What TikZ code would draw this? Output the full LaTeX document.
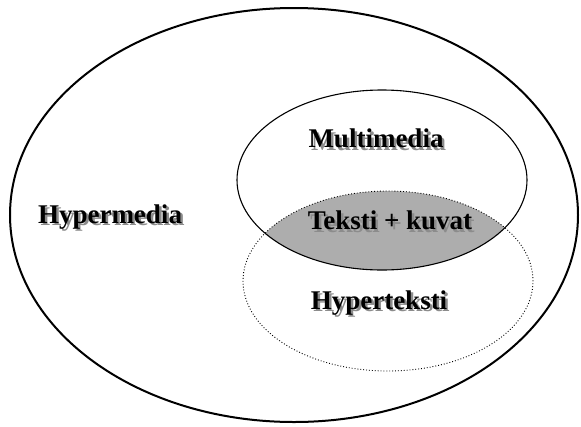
\documentclass[tikz,border=0pt]{standalone}
\usepackage{fontspec}
\setmainfont{Liberation Serif}
\usetikzlibrary{shapes.geometric}
\newcommand{\shadowtext}[1]{\makebox[0pt][l]{\hspace{2.5pt}\raisebox{-2.5pt}{\textcolor{black!45}{#1}}}#1}
\tikzset{
  lbl/.style={font=\fontsize{27}{29}\selectfont\bfseries, text=black, inner sep=0pt},
  venn/.style={ellipse, draw, inner sep=0pt, minimum width=290pt, minimum height=180pt},
}
\begin{document}
\begin{tikzpicture}[x=1pt,y=-1pt]
\useasboundingbox (0,0) rectangle (581,426);
% shaded lens
\begin{scope}
  \clip (382,180) ellipse [x radius=145, y radius=90];
  \fill[black!32] (388,281) ellipse [x radius=145, y radius=90];
\end{scope}
\node[ellipse, draw, line width=2pt, minimum width=568pt, minimum height=414pt, inner sep=0pt] (outer) at (294,215) {};
\node[venn, line width=1.1pt] (multi) at (382,180) {};
\node[venn, dotted, line width=0.9pt] (hyper) at (388,281) {};
\node[lbl] (thm) at (110,218) {\shadowtext{Hypermedia}};
\node[lbl] (tmm) at (376,140) {\shadowtext{Multimedia}};
\node[lbl] (ttk) at (390,222) {\shadowtext{Teksti + kuvat}};
\node[lbl] (tht) at (379,304) {\shadowtext{Hyperteksti}};
\end{tikzpicture}
\end{document}
